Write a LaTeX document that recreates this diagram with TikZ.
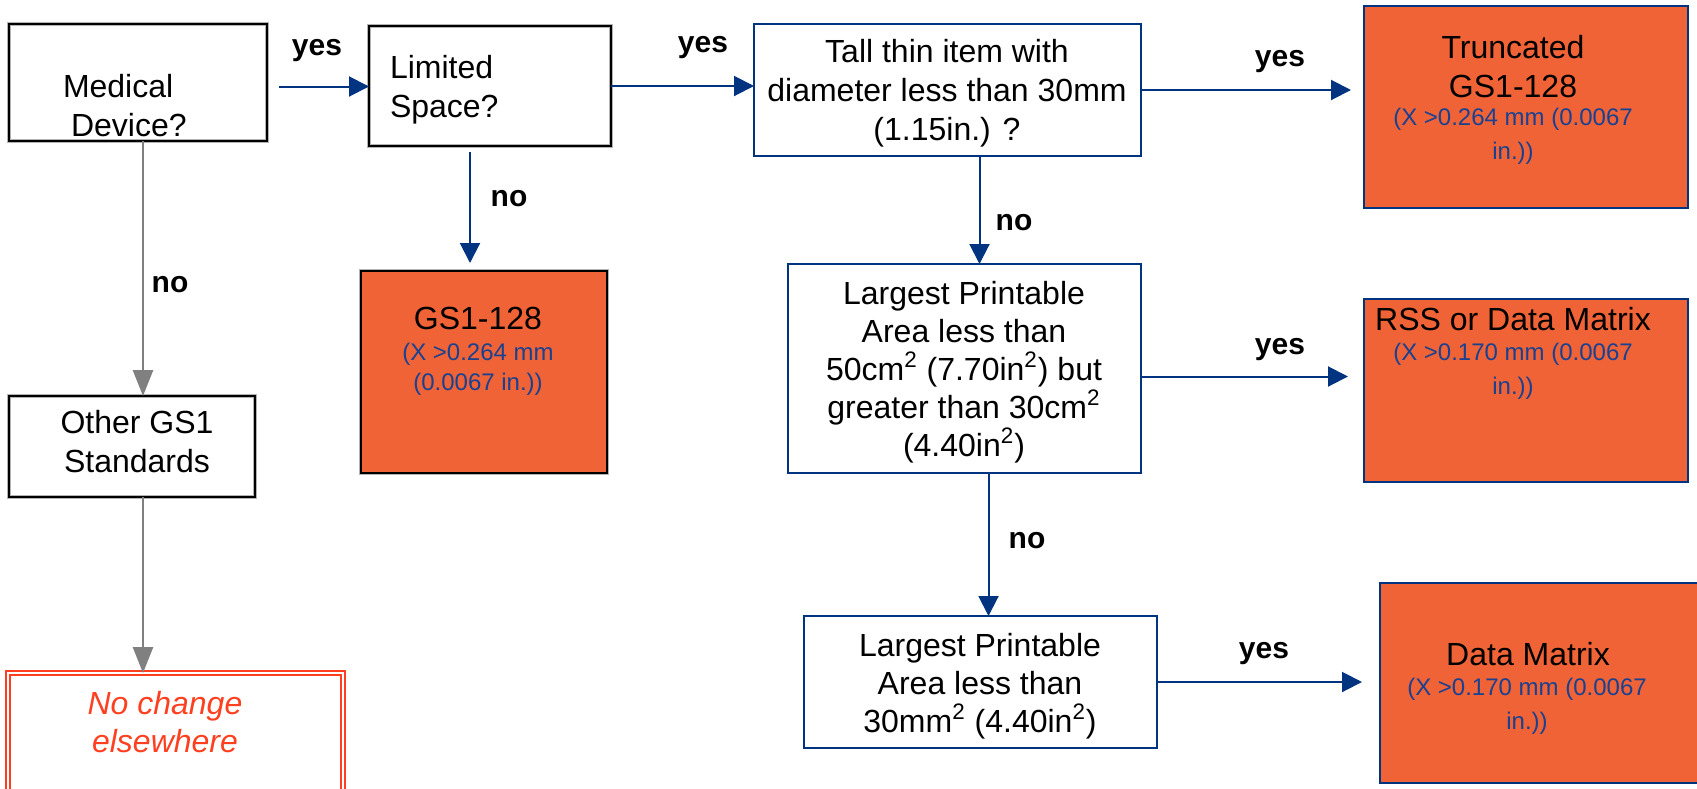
\documentclass[tikz,border=0pt]{standalone}
\usepackage{fontspec}
\setmainfont{Liberation Sans}
\usetikzlibrary{arrows.meta}
\definecolor{navy}{RGB}{0,51,128}
\definecolor{orfill}{RGB}{240,99,54}
\definecolor{txtblue}{RGB}{25,65,145}
\definecolor{ncred}{RGB}{255,64,32}
\definecolor{arrgray}{RGB}{128,128,128}
\begin{document}
\begin{tikzpicture}[x=0.5pt,y=-0.5pt,
 every node/.style={inner sep=0pt,outer sep=0pt},
 bbox/.style={rectangle,draw=black,line width=1pt,preaction={draw=arrgray!60,line width=2pt}},
 nbox/.style={rectangle,draw=navy,line width=1pt},
 obox/.style={nbox,fill=orfill},
 main/.style={font=\fontsize{16}{19.5}\selectfont,align=center},
 sub/.style={font=\fontsize{12}{17}\selectfont,text=txtblue,align=center},
 lab/.style={font=\fontsize{15}{18}\selectfont\bfseries},
 arr/.style={draw=navy,line width=1pt,-{Triangle[length=10pt,width=10pt]}},
 garr/.style={draw=arrgray,line width=1.3pt,-{Triangle[length=13pt,width=10pt]}},
]
\useasboundingbox (0,0) rectangle (1697,788);

% boxes
\node[bbox,minimum width=129pt,minimum height=58.5pt] (md) at (138,82.5) {};
\node[bbox,minimum width=121pt,minimum height=60pt] (ls) at (490,86) {};
\node[bbox,fill=orfill,minimum width=123pt,minimum height=101pt] (gs) at (484,372) {};
\node[nbox,minimum width=193.5pt,minimum height=66pt] (tt) at (947.5,90) {};
\node[obox,minimum width=162pt,minimum height=101pt] (tr) at (1526,107) {};
\node[nbox,minimum width=176.5pt,minimum height=104.5pt] (lp) at (964.5,368.5) {};
\node[obox,minimum width=162pt,minimum height=91.5pt] (rss) at (1526,390.5) {};
\node[nbox,minimum width=176.5pt,minimum height=66pt] (lp2) at (980.5,682) {};
\node[obox,minimum width=161pt,minimum height=100pt] (dm) at (1541,683) {};
\node[bbox,minimum width=123pt,minimum height=50.5pt] (og) at (132,446.5) {};
\node[rectangle,draw=ncred,double=white,double distance=1pt,line width=0.9pt,minimum width=167.5pt,minimum height=63.5pt] (nc) at (175.5,736.5) {};

% texts
\node[main,anchor=west,align=left] (mdt) at (63,106) {Medical\\\hspace*{4pt}Device?};
\node[main,anchor=west,align=left] (lst) at (390,90) {Limited\\Space?};
\node[main] (gsa) at (478,318) {GS1-128};
\node[sub,font=\fontsize{12}{15}\selectfont] (gsb) at (478,369) {(X {>}0.264 mm\\(0.0067 in.))};
\node[main] (ttt) at (947,93) {Tall thin item with\\diameter less than 30mm\\(1.15in.) ?};
\node[main] (tra) at (1513,67) {Truncated\\GS1-128};
\node[sub] (trb) at (1513,136) {(X {>}0.264 mm (0.0067\\in.))};
\node[main,font=\fontsize{16}{19}\selectfont] (lpt) at (964,372) {Largest Printable\\Area less than\\50cm\textsuperscript{2} (7.70in\textsuperscript{2}) but\\greater than 30cm\textsuperscript{2}\\(4.40in\textsuperscript{2})};
\node[main] (rssa) at (1513,319) {RSS or Data Matrix};
\node[sub] (rssb) at (1513,371) {(X {>}0.170 mm (0.0067\\in.))};
\node[main,font=\fontsize{16}{19}\selectfont] (lp2t) at (980,686) {Largest Printable\\Area less than\\30mm\textsuperscript{2} (4.40in\textsuperscript{2})};
\node[main] (dma) at (1528,654) {Data Matrix};
\node[sub] (dmb) at (1527,706) {(X {>}0.170 mm (0.0067\\in.))};
\node[main] (ogt) at (137,442) {Other GS1\\Standards};
\node[main,font=\fontsize{16}{19}\selectfont\itshape,text=ncred] (nct) at (165,722) {No change\\elsewhere};

% connectors
\draw[arr] ([xshift=6pt,yshift=-2pt]md.east) -- ([yshift=-2pt]md.east -| ls.west);
\draw[arr] (ls.east) -- (ls.east -| tt.west);
\draw[arr,shorten >=6.5pt] (tt.east) -- (tt.east -| tr.west);
\draw[arr,shorten >=4pt] ([xshift=-10pt,yshift=-3pt]ls.south) -- ([xshift=-10pt]ls.south |- gs.north);
\draw[arr] ([xshift=16pt]tt.south) -- ([xshift=16pt]tt.south |- lp.north);
\draw[arr,shorten >=8pt] ([yshift=-4pt]lp.east) -- ([yshift=-4pt]lp.east -| rss.west);
\draw[arr] ([xshift=12pt]lp.south) -- ([xshift=12pt]lp.south |- lp2.north);
\draw[arr,shorten >=9pt] (lp2.east) -- (lp2.east -| dm.west);
\draw[garr] ([xshift=2.5pt]md.south) -- ([xshift=2.5pt]md.south |- og.north);
\draw[garr] ([xshift=5.5pt]og.south) -- ([xshift=5.5pt]og.south |- nc.north);

% labels
\node[lab] (y1) at (317,51) {yes};
\node[lab] (y2) at (703,48) {yes};
\node[lab] (y3) at (1280,62) {yes};
\node[lab] (y4) at (1280,350) {yes};
\node[lab] (y5) at (1264,654) {yes};
\node[lab] (n1) at (509,199) {no};
\node[lab] (n2) at (170,285) {no};
\node[lab] (n3) at (1014,223) {no};
\node[lab] (n4) at (1027,541) {no};
\end{tikzpicture}
\end{document}
